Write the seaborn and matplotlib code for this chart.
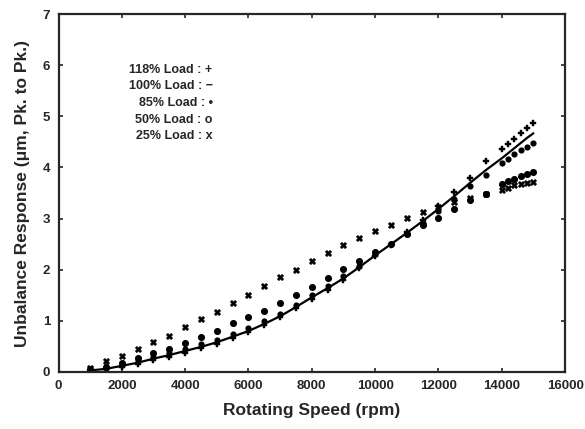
import matplotlib
matplotlib.use("Agg")
import matplotlib.pyplot as plt
import seaborn as sns
import pandas as pd

# rotating speed (rpm)
speed = [1000, 1500, 2000, 2500, 3000, 3500, 4000, 4500, 5000, 5500, 6000, 6500,
         7000, 7500, 8000, 8500, 9000, 9500, 10000, 10500, 11000, 11500, 12000,
         12500, 13000, 13500, 14000, 14200, 14400, 14600, 14800, 15000]

# unbalance response (um, pk to pk)
load_118 = [0.02, 0.05, 0.10, 0.16, 0.23, 0.30, 0.38, 0.46, 0.55, 0.66, 0.78, 0.92,
            1.07, 1.25, 1.43, 1.61, 1.80, 2.03, 2.26, 2.49, 2.73, 2.98, 3.24,
            3.52, 3.80, 4.12, 4.36, 4.46, 4.56, 4.67, 4.77, 4.87]
load_100 = [0.03, 0.06, 0.12, 0.18, 0.26, 0.33, 0.41, 0.49, 0.58, 0.69, 0.80, 0.94,
            1.09, 1.27, 1.46, 1.64, 1.83, 2.05, 2.28, 2.50, 2.72, 2.95, 3.19,
            3.44, 3.70, 3.95, 4.18, 4.28, 4.38, 4.48, 4.58, 4.67]
load_85 = [0.04, 0.08, 0.14, 0.21, 0.29, 0.37, 0.45, 0.54, 0.63, 0.74, 0.86, 0.99,
           1.14, 1.31, 1.50, 1.68, 1.87, 2.08, 2.30, 2.50, 2.70, 2.92, 3.14,
           3.38, 3.64, 3.86, 4.08, 4.17, 4.26, 4.34, 4.41, 4.48]
load_50 = [0.05, 0.10, 0.17, 0.27, 0.37, 0.45, 0.56, 0.69, 0.81, 0.95, 1.07, 1.20,
           1.34, 1.51, 1.67, 1.84, 2.01, 2.18, 2.34, 2.50, 2.70, 2.87, 3.02,
           3.19, 3.36, 3.49, 3.67, 3.73, 3.78, 3.83, 3.87, 3.92]
load_25 = [0.08, 0.21, 0.32, 0.45, 0.58, 0.71, 0.87, 1.03, 1.18, 1.35, 1.51, 1.68,
           1.85, 2.00, 2.17, 2.32, 2.48, 2.63, 2.76, 2.88, 3.01, 3.12, 3.23,
           3.33, 3.40, 3.48, 3.55, 3.60, 3.65, 3.68, 3.70, 3.72]

legend_lines = ["118% Load : +", "100% Load : \u2212", "85% Load : \u2022",
                "50% Load : o", "25% Load : x"]

sns.set_style("ticks")
plt.rcParams["font.family"] = ["Liberation Sans", "DejaVu Sans"]
plt.rcParams["font.weight"] = "bold"

df = pd.DataFrame({"speed": speed, "l118": load_118, "l100": load_100,
                   "l85": load_85, "l50": load_50, "l25": load_25})

fig = plt.figure(figsize=(5.85, 4.29), dpi=100)
ax = fig.add_axes([0.100, 0.133, 0.866, 0.834])

sns.lineplot(data=df, x="speed", y="l100", ax=ax, color="black", lw=1.6)
sns.scatterplot(data=df, x="speed", y="l118", ax=ax, marker="P", s=24,
                color="black", edgecolor="black", linewidth=0.3)
sns.scatterplot(data=df, x="speed", y="l85", ax=ax, marker="o", s=20,
                color="black", edgecolor="black", linewidth=0)
sns.scatterplot(data=df, x="speed", y="l50", ax=ax, marker="o", s=26,
                color="black", edgecolor="black", linewidth=0)
sns.scatterplot(data=df, x="speed", y="l25", ax=ax, marker="X", s=22,
                color="black", edgecolor="black", linewidth=0.3)

ax.set_xlim(0, 16000)
ax.set_ylim(0, 7)
ax.set_xticks(range(0, 16001, 2000))
ax.set_yticks(range(0, 8))
ax.tick_params(direction="in", length=3, width=1.2, labelsize=9.5,
               top=True, right=True, pad=6)
for lab in ax.get_xticklabels() + ax.get_yticklabels():
    lab.set_fontweight("heavy")
for sp in ax.spines.values():
    sp.set_linewidth(1.6)

ax.set_xlabel("Rotating Speed (rpm)", fontsize=12.5, fontweight="heavy", labelpad=8)
ax.set_ylabel("Unbalance Response (\u03bcm, Pk. to Pk.)", fontsize=12.5,
              fontweight="heavy", labelpad=9)

for i, t in enumerate(legend_lines):
    ax.text(0.304, 0.845 - i * 0.0465, t, transform=ax.transAxes, ha="right",
            va="center", fontsize=9, fontweight="heavy")

fig.savefig("out.png", dpi=100)
